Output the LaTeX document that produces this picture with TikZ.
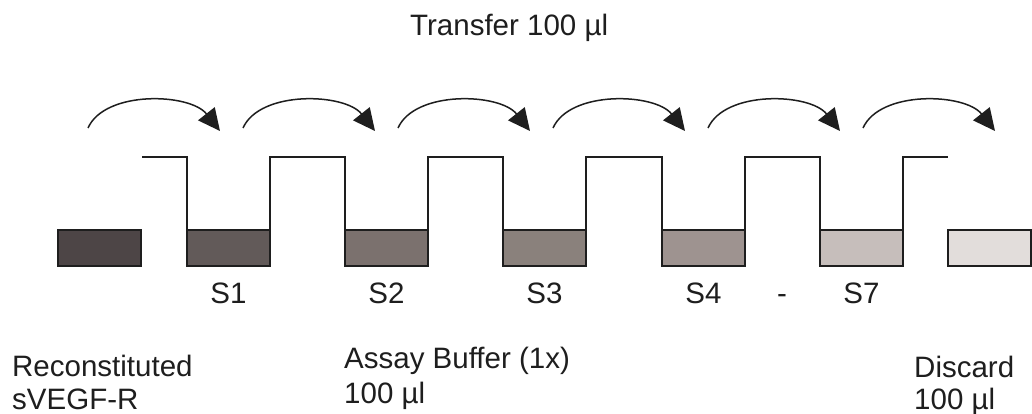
\documentclass[tikz,border=0pt]{standalone}
\usepackage{fontspec}
\setmainfont{Liberation Sans}
\usetikzlibrary{arrows.meta}
\definecolor{w0}{HTML}{4D4546}
\definecolor{w1}{HTML}{625A59}
\definecolor{w2}{HTML}{7B716E}
\definecolor{w3}{HTML}{8A817C}
\definecolor{w4}{HTML}{9E9390}
\definecolor{w7}{HTML}{C6BEBB}
\definecolor{w8}{HTML}{E2DDDB}
\definecolor{ink}{HTML}{1E1E1E}
\begin{document}
\begin{tikzpicture}[x=1pt,y=-1pt,
  well/.style={draw=ink, line width=1.4pt, minimum width=83pt, minimum height=36pt,
    inner sep=0pt, outer sep=0pt, anchor=north west},
  rim/.style={draw=ink, line width=1.4pt},
  hop/.style={draw=ink, line width=1.5pt, -{Triangle[length=22pt,width=21pt]}},
  lbl/.style={font=\fontsize{29.5}{33}\selectfont, inner sep=0pt, text=ink}
]
\useasboundingbox (0,0) rectangle (1032,414);
\fill[white] (0,0) rectangle (1032,414);

% wells
\node[well, fill=w0] (s0) at (58,230) {};
\node[well, fill=w1] (s1) at (187,230) {};
\node[well, fill=w2] (s2) at (345,230) {};
\node[well, fill=w3] (s3) at (503,230) {};
\node[well, fill=w4] (s4) at (662,230) {};
\node[well, fill=w7] (s7) at (820,230) {};
\node[well, fill=w8] (s8) at (948,230) {};

% rim line
\coordinate (r0) at (142,157);
\coordinate (r1) at (948,157);
\draw[rim] (r0) -- (s1.north west |- r0) -- (s1.north west);
\draw[rim] (s1.north east) -- (s1.north east |- r0) -- (s2.north west |- r0) -- (s2.north west);
\draw[rim] (s2.north east) -- (s2.north east |- r0) -- (s3.north west |- r0) -- (s3.north west);
\draw[rim] (s3.north east) -- (s3.north east |- r0) -- (s4.north west |- r0) -- (s4.north west);
\draw[rim] (s4.north east) -- (s4.north east |- r0) -- (s7.north west |- r0) -- (s7.north west);
\draw[rim] (s7.north east) -- (s7.north east |- r0) -- (r1);

% transfer arrows
\foreach \k in {0,...,5}{
  \coordinate (a\k) at (88+155*\k,128);
  \coordinate (b\k) at (220+155*\k,131);
  \draw[hop] (a\k) .. controls +(17,-38) and +(-30,-38) .. (b\k);
}

% labels
\node[lbl, anchor=base west] (tr) at (410,36) {Transfer 100 µl};
\node[lbl, anchor=base] (l1) at ([yshift=-37pt]s1.south) {S1};
\node[lbl, anchor=base] (l2) at ([yshift=-37pt]s2.south) {S2};
\node[lbl, anchor=base] (l3) at ([yshift=-37pt]s3.south) {S3};
\node[lbl, anchor=base] (l4) at ([yshift=-37pt]s4.south) {S4};
\node[lbl, anchor=base] (ld) at (782,303) {-};
\node[lbl, anchor=base] (l7) at ([yshift=-37pt]s7.south) {S7};

\node[lbl, anchor=base west, align=left] (rec) at (12,409) {Reconstituted\\sVEGF-R};
\node[lbl, anchor=base west, align=left, font=\fontsize{29.5}{35}\selectfont] (buf) at (344,403) {Assay Buffer (1x)\\100 µl};
\node[lbl, anchor=base west, align=left, font=\fontsize{29.5}{32}\selectfont] (dis) at (914,409) {Discard\\100 µl};
\end{tikzpicture}
\end{document}
